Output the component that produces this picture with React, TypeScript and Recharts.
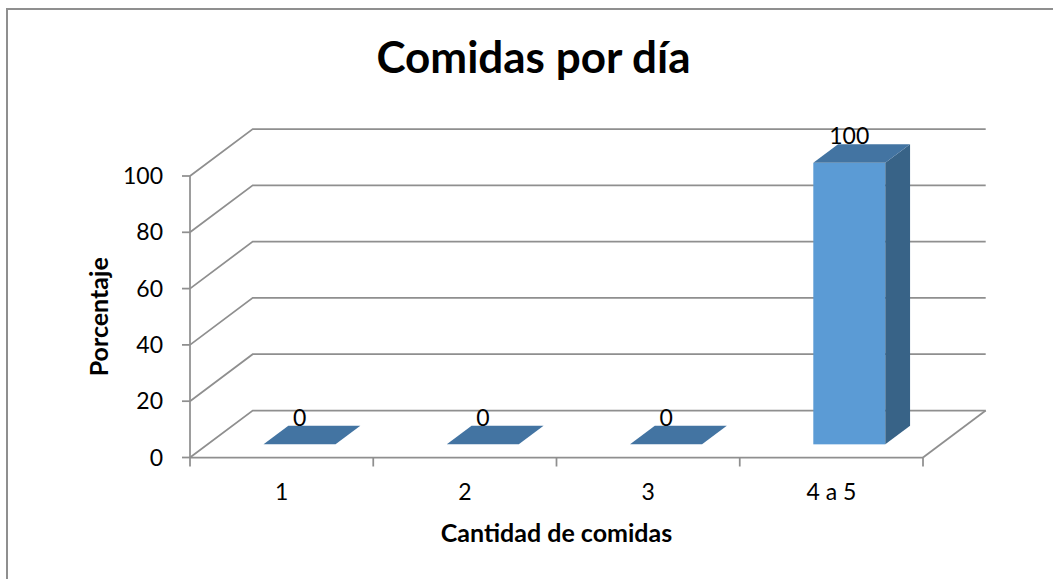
import { BarChart, Bar, XAxis, YAxis, CartesianGrid, LabelList, Label } from "recharts";

// ── data ─────────────────────────────────────────────────────────────────────
const categories = ["1", "2", "3", "4 a 5"];
const percentages = [0, 0, 0, 100];
const yTicks = [0, 20, 40, 60, 80, 100];

const data = categories.map((cantidad, i) => ({ cantidad, porcentaje: percentages[i] }));

// ── look ─────────────────────────────────────────────────────────────────────
const FONT = "Lato, 'Open Sans', sans-serif";
const TEXT_SIZE = 23;
const LINE = "#8f8f8f";
const FRONT = "#5b9bd5";
const SIDE = "#386387";
const TOP = "#4374a2";

// oblique projection of the depth axis (walls go back this far)
const DX = 62.7;
const DY = 47;
// bars sit between these fractions of the depth
const BAR_FRONT = 0.28;
const BAR_BACK = 0.675;

// back wall line: diagonal up the side wall, then across the back
const WallLine = (p: any) => {
  const { x1, y1, x2 } = p;
  const isFloor = Math.abs(y1 - (p.y + p.height)) < 0.5;
  return (
    <g>
      <polyline
        points={`${x1},${y1} ${x1 + DX},${y1 - DY} ${x2 + DX},${y1 - DY}`}
        fill="none"
        stroke={LINE}
        strokeWidth={1.75}
      />
      {isFloor && (
        <line x1={x2} y1={y1} x2={x2 + DX} y2={y1 - DY} stroke={LINE} strokeWidth={1.75} />
      )}
    </g>
  );
};

// category ticks sit on the band boundaries, labels in the middle
const CategoryTick = (p: any) => {
  const { x, y, payload, index, visibleTicksCount, width } = p;
  const half = payload?.offset || width / visibleTicksCount / 2;
  const last = index === visibleTicksCount - 1;
  return (
    <g>
      <line x1={x - half} y1={y} x2={x - half} y2={y + 9} stroke={LINE} strokeWidth={1.75} />
      {last && <line x1={x + half} y1={y} x2={x + half} y2={y + 9} stroke={LINE} strokeWidth={1.75} />}
      <text x={x} y={y + 42} textAnchor="middle" fontSize={TEXT_SIZE} fontFamily={FONT} fill="#000">
        {payload.value}
      </text>
    </g>
  );
};

const Box3D = (p: any) => {
  const x = Number(p.x);
  const y = Number(p.y);
  const w = Number(p.width);
  const h = Number(p.height);
  const fx = x + BAR_FRONT * DX;
  const fy = y - BAR_FRONT * DY;
  const dx = (BAR_BACK - BAR_FRONT) * DX;
  const dy = (BAR_BACK - BAR_FRONT) * DY;
  const top = `${fx},${fy} ${fx + dx},${fy - dy} ${fx + w + dx},${fy - dy} ${fx + w},${fy}`;
  const side = `${fx + w},${fy} ${fx + w + dx},${fy - dy} ${fx + w + dx},${fy + h - dy} ${fx + w},${fy + h}`;
  return (
    <g>
      {h > 0 && <rect x={fx} y={fy} width={w} height={h} fill={FRONT} />}
      {h > 0 && <polygon points={side} fill={SIDE} />}
      <polygon points={top} fill={TOP} />
    </g>
  );
};

const ValueLabel = (p: any) => {
  const cx = Number(p.x) + BAR_FRONT * DX + Number(p.width) / 2;
  const top = Number(p.y) - BAR_BACK * DY;
  return (
    <text x={cx} y={top} textAnchor="middle" fontSize={TEXT_SIZE} fontFamily={FONT} fill="#000">
      {p.value}
    </text>
  );
};

const AxisTitleX = (p: any) => {
  const { x, y, width } = p.viewBox;
  return (
    <text x={x + width / 2} y={y + 84} textAnchor="middle" fontSize={25} fontWeight={700} fontFamily={FONT} fill="#000">
      Cantidad de comidas
    </text>
  );
};

const AxisTitleY = (p: any) => {
  const { y, height } = p.viewBox;
  const cx = 108;
  const cy = y + height / 2;
  return (
    <text x={cx} y={cy} transform={`rotate(-90 ${cx} ${cy})`} textAnchor="middle" fontSize={25} fontWeight={700} fontFamily={FONT} fill="#000">
      Porcentaje
    </text>
  );
};

export default function App() {
  return (
    <div style={{ position: "absolute", left: 0, top: 0, width: 1053, height: 579, overflow: "hidden", background: "#fff" }}>
      <div
        style={{
          position: "absolute",
          left: 6,
          top: 8,
          width: 1100,
          height: 600,
          borderLeft: `2px solid ${LINE}`,
          borderTop: `2px solid ${LINE}`,
        }}
      />
      <div
        style={{
          position: "absolute",
          left: 0,
          top: 29.5,
          width: 1067,
          textAlign: "center",
          fontFamily: FONT,
          fontWeight: 700,
          fontSize: 44,
          lineHeight: "53px",
          color: "#000",
        }}
      >
        Comidas por día
      </div>
      <div style={{ position: "absolute", left: 0, top: 0 }}>
        <BarChart
          width={1053}
          height={579}
          data={data}
          margin={{ top: 176, right: 130, bottom: 61.5, left: 90 }}
          barSize={72}
        >
          <CartesianGrid horizontal={(p: any) => <WallLine key={p.key} {...p} />} vertical={false} />
          <XAxis
            dataKey="cantidad"
            height={60}
            tickSize={0}
            tickMargin={0}
            axisLine={{ stroke: LINE, strokeWidth: 1.75 }}
            tick={<CategoryTick />}
            interval={0}
          >
            <Label content={<AxisTitleX />} />
          </XAxis>
          <YAxis
            width={100}
            domain={[0, 100]}
            ticks={yTicks}
            tickSize={8}
            tickMargin={19}
            axisLine={{ stroke: LINE, strokeWidth: 1.75 }}
            tickLine={{ stroke: LINE, strokeWidth: 1.75 }}
            tick={{ fontSize: TEXT_SIZE, fill: "#000", fontFamily: FONT }}
          >
            <Label content={<AxisTitleY />} />
          </YAxis>
          <Bar dataKey="porcentaje" shape={<Box3D />} isAnimationActive={false}>
            <LabelList dataKey="porcentaje" content={<ValueLabel />} />
          </Bar>
        </BarChart>
      </div>
    </div>
  );
}
